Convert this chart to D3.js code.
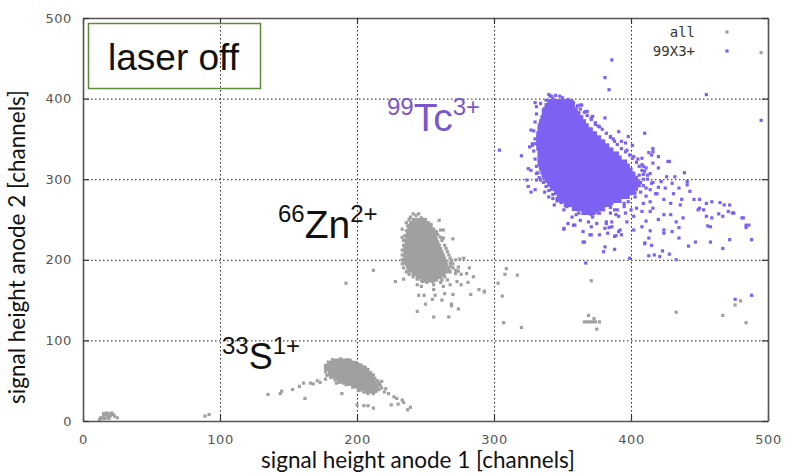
<!DOCTYPE html>
<html>
<head>
<meta charset="utf-8">
<script src="https://cdn.jsdelivr.net/npm/d3@7"></script>
<style>
  html, body { margin: 0; padding: 0; background: #fff; }
  svg { display: block; }
</style>
</head>
<body>
<svg id="chart" width="786" height="474"></svg>
<script>
// Axis ticks (channels)
const xTicks = [0, 100, 200, 300, 400, 500];
const yTicks = [0, 100, 200, 300, 400, 500];
const seriesNames = ["all", "99X3+"];

// Dense cores: [anode-2 channel, anode-1 from, anode-1 to]
const tcCore = [
  [395, 340, 356], [390, 338, 358], [385, 337, 360], [380, 336, 362], [375, 335, 364],
  [370, 334, 366], [365, 333, 368], [360, 333, 371], [355, 332, 374], [350, 332, 377],
  [345, 332, 380], [340, 332, 383], [335, 333, 386], [330, 333, 390], [325, 333, 392],
  [320, 333, 396], [315, 334, 398], [310, 335, 400], [305, 336, 402], [300, 338, 404],
  [295, 340, 405], [290, 342, 404], [285, 345, 402], [280, 347, 398], [275, 349, 392],
  [270, 352, 385], [265, 358, 378], [260, 365, 373]
];
const znCore = [
  [248, 241, 249], [244, 239, 251], [240, 238, 253], [236, 238, 255], [232, 237, 256],
  [228, 237, 257], [224, 236, 258], [220, 236, 259], [216, 235, 260], [212, 235, 261],
  [208, 235, 262], [204, 235, 263], [200, 235, 264], [196, 236, 265], [192, 237, 265],
  [188, 239, 264], [184, 241, 262], [180, 244, 259], [176, 247, 256]
];
const sCore = [
  [74, 183, 195], [71, 180, 199], [68, 179, 203], [65, 179, 206], [62, 180, 207],
  [59, 181, 208], [56, 183, 210], [53, 186, 211], [50, 189, 212], [47, 193, 213],
  [44, 197, 214], [41, 201, 214], [38, 206, 213]
];

// 99X3+ events outside the dense core: [anode 1, anode 2]
const tcPoints = [
  [304, 336], [320, 329], [327, 361], [328, 342], [330, 344], [325, 313], [327, 311],
  [324, 299], [325, 291], [327, 284], [330, 287], [331, 299], [326, 340], [328, 344],
  [337, 284], [340, 278], [343, 276], [344, 268], [347, 274], [351, 262], [353, 266],
  [357, 253], [351, 239], [354, 245], [359, 243], [363, 249], [365, 235], [370, 231],
  [371, 241], [375, 245], [377, 231], [381, 239], [382, 247], [386, 241], [391, 235],
  [388, 229], [365, 222], [381, 216], [380, 210], [367, 196], [360, 256], [366, 258],
  [372, 253], [377, 258], [385, 258], [389, 256], [369, 247], [358, 266], [351, 238],
  [358, 243], [366, 222], [371, 231], [388, 213], [399, 202], [410, 220], [415, 218],
  [413, 205], [417, 206], [423, 211], [428, 207], [433, 200], [442, 217], [447, 222],
  [458, 222], [467, 214], [472, 225], [488, 225], [484, 243], [481, 252],
  [341, 403], [348, 403], [331, 390], [335, 369], [363, 392], [367, 384], [371, 376],
  [377, 365], [381, 376], [391, 359], [385, 353], [393, 347], [396, 345], [398, 353],
  [334, 394], [336, 386], [340, 405], [342, 403], [364, 392], [368, 384], [372, 378],
  [410, 357], [401, 342], [416, 338], [416, 334], [427, 322], [439, 308],
  [384, 411], [386, 448], [381, 426], [455, 405], [495, 373],
  [428, 322], [441, 297], [443, 285], [446, 275], [450, 275], [455, 270],
  [459, 272], [465, 271], [468, 268], [472, 268], [449, 262], [453, 262], [455, 254],
  [459, 252], [464, 257], [467, 254], [471, 260], [474, 258], [475, 258], [482, 252],
  [456, 242], [458, 241], [484, 240], [486, 243], [421, 204], [410, 221],
  [430, 235], [435, 240], [433, 247], [424, 237], [414, 236], [408, 241],
  [402, 237], [420, 250], [424, 256], [429, 256], [438, 252], [411, 248], [392, 237],
  [393, 231], [389, 230], [384, 240], [450, 264], [437, 275], [436, 268],
  [429, 270], [424, 275], [431, 282], [435, 289], [430, 295], [432, 303], [441, 293],
  [426, 303], [422, 297], [425, 289], [419, 282], [420, 314], [416, 320], [415, 330],
  [420, 328], [413, 333], [408, 326], [409, 316], [414, 307], [415, 295], [411, 289],
  [414, 272], [409, 270], [404, 264], [408, 260], [414, 260], [416, 264], [402, 254],
  [397, 247], [396, 258], [391, 254], [386, 247], [382, 245], [383, 233], [388, 262],
  [413, 227], [424, 233], [435, 227],
  [405, 325], [408, 318], [410, 310], [406, 305], [412, 300], [407, 296], [409, 292],
  [414, 287], [418, 282], [411, 279], [407, 284], [403, 283], [416, 296], [420, 290],
  [403, 278], [398, 272], [395, 266], [390, 262], [400, 262], [385, 265], [380, 262],
  [376, 258], [476, 151], [488, 156],
  // ragged rim of the core
  [338, 398], [343, 400], [350, 401], [354, 399], [358, 395], [361, 391], [363, 387],
  [366, 383], [368, 379], [371, 374], [374, 370], [376, 366], [379, 362], [382, 357],
  [385, 352], [388, 347], [390, 343], [393, 338], [396, 334], [399, 330], [401, 326],
  [404, 321], [406, 316], [408, 311], [409, 306], [409, 300], [330, 395], [331, 381],
  [330, 371], [329, 360], [330, 350], [329, 335], [330, 325], [331, 316], [332, 308],
  [333, 302], [336, 296], [338, 291], [340, 286], [343, 281], [346, 276], [349, 271],
  [354, 267], [361, 262], [368, 258], [375, 260], [380, 266], [386, 270], [390, 273],
  [394, 278], [398, 283], [401, 288], [404, 293], [345, 404], [357, 397], [374, 368],
  [387, 350], [397, 336], [402, 328], [411, 314], [412, 305], [406, 292], [395, 270],
  [362, 258], [371, 256], [346, 273], [334, 299], [331, 307]
];

// "all" events outside the three dense cores: [anode 1, anode 2]
const allPoints = [
  // 66Zn2+ surroundings
  [241, 257], [245, 257], [233, 238], [233, 228], [260, 249], [261, 237], [263, 237],
  [270, 226], [263, 227], [275, 201], [272, 200], [278, 202], [282, 190], [274, 191],
  [272, 183], [280, 183], [285, 179], [281, 172], [289, 163], [293, 161], [228, 173],
  [234, 176], [244, 169], [247, 167], [245, 156], [249, 156], [256, 163], [257, 156],
  [263, 167], [264, 158], [270, 157], [262, 150], [255, 151], [250, 145], [269, 145],
  [283, 157], [266, 175], [268, 169], [273, 173], [276, 169], [256, 169], [261, 172],
  [212, 187], [244, 136], [256, 129], [267, 129], [269, 143], [274, 139], [238, 250],
  [254, 244], [258, 232], [237, 186], [234, 196], [266, 190], [268, 196], [264, 184],
  [192, 171],
  // ragged rim of the 66Zn2+ core
  [239, 253], [243, 255], [247, 252], [250, 250], [236, 246], [252, 246], [254, 242],
  [256, 238], [258, 235], [259, 231], [261, 228], [262, 224], [264, 218], [265, 214],
  [266, 210], [267, 206], [268, 202], [269, 199], [270, 195], [268, 192], [267, 188],
  [266, 185], [263, 181], [261, 178], [258, 175], [255, 173], [251, 172], [248, 173],
  [244, 176], [241, 179], [238, 182], [236, 185], [234, 190], [233, 195], [233, 200],
  [233, 206], [233, 212], [234, 218], [234, 224], [235, 230], [236, 236], [237, 242],
  [270, 190], [272, 187], [268, 185], [274, 186], [276, 182], [264, 179], [262, 175],
  // scattered middle / right
  [293, 160], [303, 171], [309, 189], [308, 182], [317, 181], [306, 155], [307, 122],
  [320, 116], [371, 174], [369, 131], [373, 127], [366, 123], [368, 123], [370, 123],
  [372, 123], [374, 123], [377, 123], [375, 114], [433, 135], [467, 131], [476, 144],
  [480, 149], [484, 122], [495, 457],
  // 33S1+ surroundings
  [135, 33], [144, 34], [145, 37], [153, 39], [158, 43], [161, 47], [162, 28], [166, 47],
  [168, 46], [171, 50], [173, 48], [177, 52], [178, 57], [180, 61], [189, 34], [185, 47],
  [190, 47], [194, 48], [200, 20], [205, 19], [208, 19], [212, 16], [205, 36], [208, 34],
  [212, 34], [216, 47], [218, 49], [216, 39], [218, 41], [220, 36], [223, 34], [227, 30],
  [229, 28], [225, 20], [230, 21], [233, 26], [234, 23], [237, 14], [239, 17], [214, 45],
  [210, 42], [202, 38], [217, 44], [221, 40],
  // ragged rim of the 33S1+ core
  [182, 76], [188, 77], [193, 76], [197, 73], [201, 70], [205, 67], [208, 64], [210, 60],
  [212, 57], [213, 53], [215, 50], [216, 46], [215, 42], [214, 37], [210, 36], [206, 37],
  [201, 39], [197, 42], [192, 45], [187, 48], [184, 51], [181, 54], [179, 57], [177, 61],
  [177, 65], [177, 69], [179, 73],
  // low-channel noise
  [13, 4], [15, 6], [17, 8], [19, 9], [21, 10], [20, 7], [22, 8], [18, 5], [14, 3],
  [16, 3], [23, 6], [12, 2], [25, 4], [17, 10], [15, 9], [19, 3], [89, 6], [92, 8]
];

const W = 786, H = 474;
const plot = { left: 83, right: 768, top: 18, bottom: 421 };
const markerSize = 3.2;
const grey = "#a0a0a0";
const violet = "#7d61f3";

const svg = d3.select("#chart");
const x = d3.scaleLinear().domain([0, 500]).range([plot.left, plot.right]);
const y = d3.scaleLinear().domain([0, 500]).range([plot.bottom, plot.top]);

// dotted grid
const grid = svg.append("g").attr("stroke", "#222").attr("stroke-width", 1)
  .attr("stroke-dasharray", "1.5,2.5").attr("fill", "none");
grid.selectAll("line.gx").data(xTicks.slice(1, -1)).join("line")
  .attr("x1", d => x(d) + 0.5).attr("x2", d => x(d) + 0.5)
  .attr("y1", plot.top).attr("y2", plot.bottom);
grid.selectAll("line.gy").data(yTicks.slice(1, -1)).join("line")
  .attr("y1", d => y(d) + 0.5).attr("y2", d => y(d) + 0.5)
  .attr("x1", plot.left).attr("x2", plot.right);

// dense cores drawn as filled channel bands
function drawCore(rows, color) {
  const step = rows[0][0] - rows[1][0];
  const h = markerSize / 2;
  svg.append("g").attr("fill", color).selectAll("rect").data(rows).join("rect")
    .attr("x", d => x(d[1]) - h)
    .attr("width", d => x(d[2]) - x(d[1]) + markerSize)
    .attr("y", d => y(d[0] + step / 2) - h)
    .attr("height", d => y(d[0] - step / 2) - y(d[0] + step / 2) + markerSize);
}
function drawPoints(pts, color) {
  svg.append("g").attr("fill", color).selectAll("rect").data(pts).join("rect")
    .attr("x", d => x(d[0]) - markerSize / 2)
    .attr("y", d => y(d[1]) - markerSize / 2)
    .attr("width", markerSize).attr("height", markerSize);
}

drawCore(znCore, grey);
drawCore(sCore, grey);
drawPoints(allPoints, grey);
drawCore(tcCore, violet);
drawPoints(tcPoints, violet);

// frame with inward ticks on all sides
const axisColor = "#555";
function styleAxis(g, labels) {
  g.select(".domain").attr("stroke", axisColor).attr("stroke-width", 1.6);
  g.selectAll(".tick line").attr("stroke", "#333").attr("stroke-width", 1.2);
  g.selectAll(".tick text").attr("fill", "#555")
    .style("font-family", "'DejaVu Sans', sans-serif").style("font-size", "13px")
    .style("letter-spacing", "0.6px");
  if (!labels) g.selectAll(".tick text").remove();
}
svg.append("g").attr("transform", `translate(0,${plot.bottom})`)
  .call(d3.axisBottom(x).tickValues(xTicks).tickSizeInner(-6).tickSizeOuter(0).tickPadding(14))
  .call(g => styleAxis(g, true));
svg.append("g").attr("transform", `translate(0,${plot.top})`)
  .call(d3.axisTop(x).tickValues(xTicks).tickSizeInner(-6).tickSizeOuter(0))
  .call(g => styleAxis(g, false));
svg.append("g").attr("transform", `translate(${plot.left},0)`)
  .call(d3.axisLeft(y).tickValues(yTicks).tickSizeInner(-6).tickSizeOuter(0).tickPadding(11))
  .call(g => styleAxis(g, true));
svg.append("g").attr("transform", `translate(${plot.right},0)`)
  .call(d3.axisRight(y).tickValues(yTicks).tickSizeInner(-6).tickSizeOuter(0))
  .call(g => styleAxis(g, false));

// axis titles
svg.append("text").attr("x", 418).attr("y", 468).attr("text-anchor", "middle")
  .style("font-family", "Lato, 'Open Sans', sans-serif").style("font-size", "22.5px")
  .attr("fill", "#111").text("signal height anode 1 [channels]");
svg.append("text").attr("transform", "translate(25,247) rotate(-90)").attr("text-anchor", "middle")
  .style("font-family", "Lato, 'Open Sans', sans-serif").style("font-size", "22.5px")
  .attr("fill", "#111").text("signal height anode 2 [channels]");

// legend
const legend = svg.append("g").style("font-family", "'DejaVu Sans Mono', monospace")
  .style("font-size", "14px").attr("fill", "#333");
const legendColors = [grey, violet];
seriesNames.forEach((name, i) => {
  const ly = 32 + i * 19;
  legend.append("text").attr("x", 695).attr("y", ly).attr("dy", "0.35em")
    .attr("text-anchor", "end").text(name);
  legend.append("rect").attr("x", 727 - markerSize / 2).attr("y", ly - markerSize / 2)
    .attr("width", markerSize).attr("height", markerSize).attr("fill", legendColors[i]);
});

// "laser off" box
svg.append("rect").attr("x", 88.5).attr("y", 23.5).attr("width", 172).attr("height", 65)
  .attr("fill", "none").attr("stroke", "#5b8c3a").attr("stroke-width", 1.5);
svg.append("text").attr("x", 108).attr("y", 70)
  .style("font-family", "'Liberation Sans', Arial, sans-serif").style("font-size", "37px")
  .attr("fill", "#111").text("laser off");

// ion labels
function ionLabel(px, py, mass, sym, charge, color, size, supSize) {
  const t = svg.append("text").attr("x", px).attr("y", py).attr("fill", color)
    .style("font-family", "'Liberation Sans', Arial, sans-serif");
  const rise = size * 0.42;
  t.append("tspan").style("font-size", supSize + "px").attr("dy", -rise).text(mass);
  t.append("tspan").style("font-size", size + "px").attr("dy", rise).text(sym);
  t.append("tspan").style("font-size", supSize + "px").attr("dy", -rise).text(charge);
}
ionLabel(387, 131, "99", "Tc", "3+", "#7a56cc", 39, 24);
ionLabel(278, 238, "66", "Zn", "2+", "#111", 39, 24);
ionLabel(222, 369, "33", "S", "1+", "#111", 36, 24);
</script>
</body>
</html>
